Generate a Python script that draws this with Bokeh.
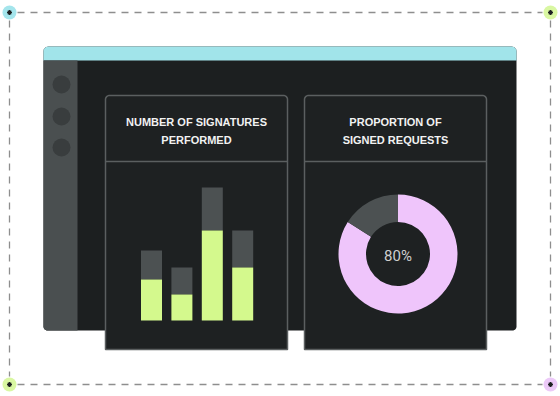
import numpy as np
from bokeh.plotting import figure
from bokeh.models import Range1d
from bokeh.embed import file_html
from bokeh.resources import INLINE
from bokeh.core.properties import value

# ---------------- data ----------------
bar_index = [0, 1, 2, 3]
signed_counts = [41, 26, 90, 53]        # green part
total_counts = [70, 53, 133, 90]        # full bar height (grey on top)
donut_labels = ["Signed", "Unsigned"]
donut_shares = [84, 16]
donut_center_label = "80%"
title_left = ["NUMBER OF SIGNATURES", "PERFORMED"]
title_right = ["PROPORTION OF", "SIGNED REQUESTS"]

W, H = 560, 396

# colours
CYAN = "#a1e4ea"
DARK = "#1c1f20"
SIDEBAR = "#4a4f50"
SIDE_DOT = "#393d3e"
PANEL = "#1e2122"
PANEL_BORDER = "#5b5f60"
GREEN = "#d4f98d"
GREYBAR = "#4c5152"
PINK = "#efc5fb"
DASH = "#8e8e8e"


def Y(y):
    return H - y


def rrect(x0, y0, x1, y1, tl=0, tr=0, br=0, bl=0, n=8):
    """rounded rectangle in top-based pixel coords -> xs, ys"""
    xs, ys = [], []

    def arc(cx, cy, r, a0, a1):
        if r == 0:
            xs.append(cx); ys.append(cy)
            return
        for a in np.linspace(a0, a1, n):
            xs.append(cx + r * np.cos(a)); ys.append(cy - r * np.sin(a))

    arc(x0 + tl, y0 + tl, tl, np.pi, np.pi / 2) if tl else arc(x0, y0, 0, 0, 0)
    arc(x1 - tr, y0 + tr, tr, np.pi / 2, 0) if tr else arc(x1, y0, 0, 0, 0)
    arc(x1 - br, y1 - br, br, 0, -np.pi / 2) if br else arc(x1, y1, 0, 0, 0)
    arc(x0 + bl, y1 - bl, bl, -np.pi / 2, -np.pi) if bl else arc(x0, y1, 0, 0, 0)
    return xs, [Y(v) for v in ys]


p = figure(width=W, height=H, x_range=Range1d(0, W), y_range=Range1d(0, H),
           output_backend="svg", toolbar_location=None, min_border=0)
p.axis.visible = False
p.grid.visible = False
p.outline_line_color = None
p.background_fill_color = "white"
p.border_fill_color = "white"

# ---------- dashed frame ----------
L, R, T, B = 9, 550, 12, 384
p.line([L + 8, R - 8], [Y(T), Y(T)], line_color=DASH, line_width=1.3, line_dash="7 6")
p.line([L + 8, R - 8], [Y(B), Y(B)], line_color=DASH, line_width=1.3, line_dash="7 6")
p.line([L, L], [Y(T + 8), Y(B - 8)], line_color=DASH, line_width=1.3, line_dash="7 6")
p.line([R, R], [Y(T + 8), Y(B - 8)], line_color=DASH, line_width=1.3, line_dash="7 6")
p.scatter([L, R, L, R], [Y(T), Y(T), Y(B), Y(B)], size=14,
          fill_color=["#a4e5ec", "#d9f7a2", "#d9f7a2", "#ecc9f8"], line_color=None)
p.scatter([L, R, L, R], [Y(T), Y(T), Y(B), Y(B)], marker="asterisk", size=5,
          line_color="#1e2122", line_width=1.2)

# ---------- window ----------
xs, ys = rrect(43, 46, 516, 330, 5, 5, 4, 4)
p.patch(xs, ys, fill_color=DARK, line_color=None)
xs, ys = rrect(43, 46, 516, 60, 5, 5, 0, 0)
p.patch(xs, ys, fill_color=CYAN, line_color=None)
xs, ys = rrect(43, 60, 77, 330, 0, 0, 0, 4)
p.patch(xs, ys, fill_color=SIDEBAR, line_color=None)
p.circle([61, 61, 61], [Y(84), Y(116), Y(147)], radius=9, fill_color=SIDE_DOT, line_color=None)

# ---------- panels ----------
for (px0, px1) in [(105, 287), (304, 486)]:
    xs, ys = rrect(px0, 95, px1, 349, 4, 4, 0, 0)
    p.patch(xs, ys, fill_color=PANEL, line_color=PANEL_BORDER, line_width=1.5)
    p.line([px0, px1], [Y(161), Y(161)], line_color=PANEL_BORDER, line_width=1.5)

# ---------- titles ----------
for cx, lines in [(196, title_left), (395, title_right)]:
    for i, t in enumerate(lines):
        p.text([cx], [Y(121 + 18 * i)], text=[t], text_align="center", text_baseline="middle",
               text_font=value("Liberation Sans"), text_font_style="bold",
               text_font_size="11px", text_color="#f2f2f2")

# ---------- bars (own scales) ----------
spacing = 30.4
c0 = 151.0
p.extra_x_ranges = {"bars_x": Range1d(-c0 / spacing, (W - c0) / spacing)}
p.extra_y_ranges = {"bars_y": Range1d(-(H - 320), 320)}
bw = 21 / spacing
p.vbar(x=bar_index, bottom=signed_counts, top=total_counts, width=bw,
       fill_color=GREYBAR, line_color=None, x_range_name="bars_x", y_range_name="bars_y")
p.vbar(x=bar_index, bottom=0, top=signed_counts, width=bw,
       fill_color=GREEN, line_color=None, x_range_name="bars_x", y_range_name="bars_y")

# ---------- donut ----------
shares = np.array(donut_shares, dtype=float)
frac = shares / shares.sum()
cum = np.concatenate([[0], np.cumsum(frac)])
starts = np.pi / 2 - 2 * np.pi * cum[:-1]
ends = np.pi / 2 - 2 * np.pi * cum[1:]
p.annular_wedge(x=397.5, y=Y(253.5), inner_radius=32, outer_radius=59.5,
                start_angle=starts, end_angle=ends, direction="clock",
                fill_color=[PINK, GREYBAR], line_color=None)
p.text([397.5], [Y(255)], text=[donut_center_label], text_align="center", text_baseline="middle",
       text_font=value("Roboto"), text_font_size="15px", text_color="#cfcfcf")

open("out.html", "w").write(file_html(p, INLINE))
